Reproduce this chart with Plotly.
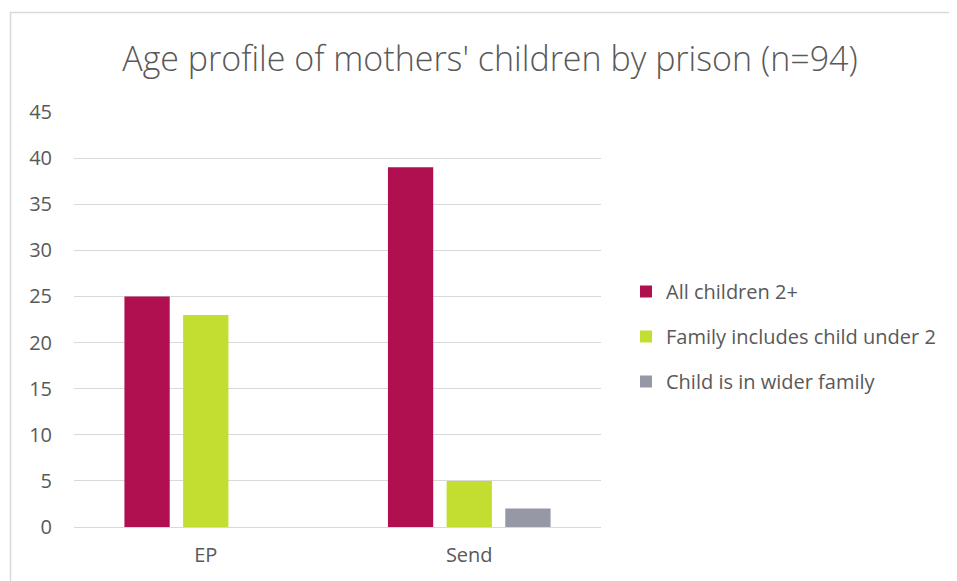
import plotly.graph_objects as go

categories = ["EP", "Send"]
series_names = ["All children 2+", "Family includes child under 2", "Child is in wider family"]
all_children_2plus = [25, 39]
family_child_under2 = [23, 5]
child_wider_family = [0, 2]
colors = ["#B0104F", "#C3DE30", "#9698A5"]
title_text = "Age profile of mothers' children by prison (n=94)"
y_ticks = [0, 5, 10, 15, 20, 25, 30, 35, 40, 45]

OFF = 8  # page body margin
W, H = 957 - OFF, 581 - OFF
L, R = 74 - OFF, 957 - 601
T, B = 112 - OFF, 581 - 527
pw, ph = W - L - R, H - T - B

fig = go.Figure()
for i, (name, vals) in enumerate(zip(series_names, [all_children_2plus, family_child_under2, child_wider_family])):
    fig.add_trace(go.Bar(x=categories, y=vals, name=name, marker=dict(color=colors[i], line=dict(width=0)),
                         legendgroup=f"g{i}"))

def px_x(x):
    return (x - OFF - L) / pw
def px_y(y):
    return (H - B - (y - OFF)) / ph

fig.update_layout(
    width=W, height=H,
    margin=dict(l=L, r=R, t=T, b=B),
    paper_bgcolor="white", plot_bgcolor="white",
    barmode="group", bargap=0.332, bargroupgap=0.228,
    font=dict(family="Open Sans", color="#595959", size=20),
    title=dict(text=title_text, x=px_x(490), xanchor="center", xref="paper",
               y=1 - (59 - OFF) / H, yanchor="middle",
               font=dict(family="Open Sans", size=34, color="#595959", weight=300)),
    xaxis=dict(showgrid=False, showline=False, zeroline=False, ticks="",
               tickfont=dict(size=20, color="#595959"), ticklabelstandoff=14),
    yaxis=dict(range=[0, 45], tickvals=y_ticks, showgrid=True, gridcolor="#D9D9D9", gridwidth=1.3,
               zeroline=True, zerolinecolor="#D9D9D9", zerolinewidth=1.3, showline=False, ticks="",
               tickfont=dict(size=20, color="#595959"), ticklabelstandoff=21),
    legend=dict(x=px_x(626), xanchor="left", y=px_y(272), yanchor="top",
                font=dict(size=20, color="#595959"), tracegroupgap=16, itemwidth=30,
                bgcolor="rgba(0,0,0,0)"),
    shapes=[dict(type="rect", xref="paper", yref="paper",
                 x0=px_x(10.5), x1=px_x(965), y0=px_y(595), y1=px_y(12.5),
                 line=dict(color="#D9D9D9", width=1.5), fillcolor="rgba(0,0,0,0)", layer="below")],
)

fig.write_html("out.html")
